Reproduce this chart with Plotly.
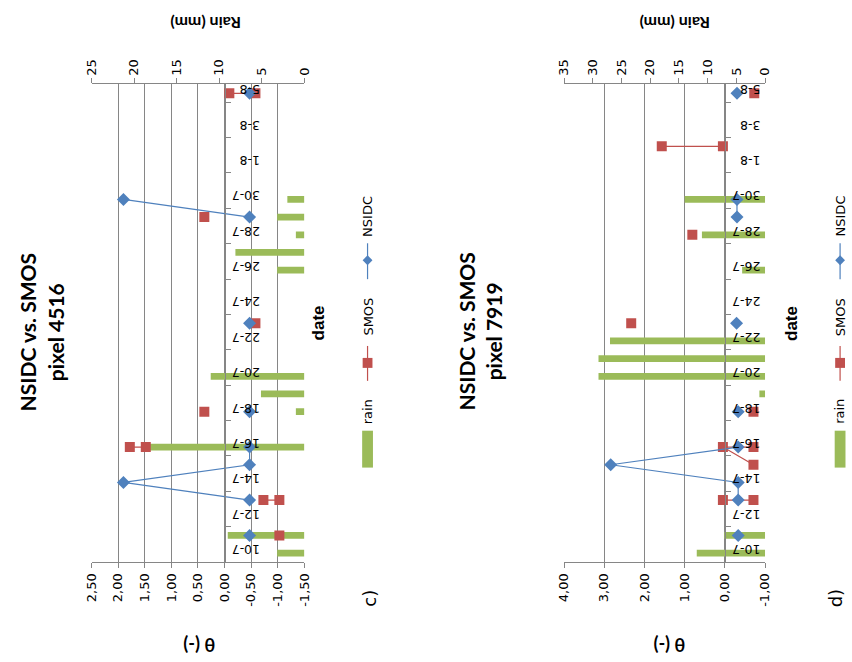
import plotly.graph_objects as go
from datetime import date

W, H = 852, 662

# ---------------- data ----------------
date_ticks = ["10-7", "12-7", "14-7", "16-7", "18-7", "20-7", "22-7", "24-7",
              "26-7", "28-7", "30-7", "1-8", "3-8", "5-8"]

# chart c) pixel 4516
rain_c_dates = ["10-7", "11-7", "16-7", "18-7", "19-7", "20-7", "26-7", "27-7", "28-7", "29-7", "30-7"]
rain_c = [3.2, 9.0, 19.0, 1.0, 5.1, 11.0, 3.2, 8.1, 1.0, 3.2, 2.0]
smos_c_dates = ["11-7", "13-7", "13-7", "16-7", "16-7", "18-7", "23-7", "29-7", "5-8", "5-8"]
smos_c = [-1.03, -0.73, -1.03, 1.78, 1.48, 0.38, -0.58, 0.38, -0.09, -0.58]
nsidc_c_dates = ["11-7", "13-7", "14-7", "15-7", "16-7", "18-7", "23-7", "29-7", "30-7", "5-8"]
nsidc_c = [-0.47, -0.47, 1.90, -0.47, -0.47, -0.47, -0.47, -0.47, 1.90, -0.47]

# chart d) pixel 7919
rain_d_dates = ["10-7", "11-7", "19-7", "20-7", "21-7", "22-7", "26-7", "28-7", "30-7"]
rain_d = [11.9, 7.1, 1.0, 29.0, 29.0, 27.0, 4.0, 11.0, 14.0]
smos_d_dates = ["13-7", "13-7", "15-7", "16-7", "16-7", "18-7", "23-7", "28-7", "2-8", "2-8", "5-8"]
smos_d = [0.05, -0.71, -0.71, 0.05, -0.71, -0.71, 2.33, 0.81, 1.57, 0.05, -0.73]
nsidc_d_dates = ["11-7", "13-7", "14-7", "15-7", "16-7", "18-7", "23-7", "29-7", "30-7", "5-8"]
nsidc_d = [-0.33, -0.33, -0.33, 2.84, -0.33, -0.33, -0.29, -0.30, -0.30, -0.30]

theta_c_ticks = [2.5, 2.0, 1.5, 1.0, 0.5, 0.0, -0.5, -1.0, -1.5]
theta_d_ticks = [4.0, 3.0, 2.0, 1.0, 0.0, -1.0]
rain_c_ticks = [0, 5, 10, 15, 20, 25]
rain_d_ticks = [0, 5, 10, 15, 20, 25, 30, 35]

# ---------------- helpers ----------------
START = date(2000, 7, 10)


def day(s):
    d, m = s.split("-")
    return (date(2000, int(m), int(d)) - START).days


def with_gaps(dates, vals):
    """Excel-like: consecutive rows are joined, a blank day breaks the line."""
    ys, xs, prev = [], [], None
    for d, v in zip(dates, vals):
        k = day(d)
        if prev is not None and k - prev > 1:
            ys.append(None)
            xs.append(None)
        ys.append(k)
        xs.append(v)
        prev = k
    return xs, ys


def fmt(v):
    return ("%.2f" % v).replace(".", ",")


GRID = "#868686"
BLUE = "#4F81BD"
RED = "#C0504D"
GREEN = "#9BBB59"
TICKFONT = dict(family="DejaVu Sans", size=13, color="#000000")
DATEFONT = dict(family="DejaVu Sans", size=12.5, color="#000000")

ytop_px, ybot_px = 82.7, 561.7
ydom = [1 - ybot_px / H, 1 - ytop_px / H]
day_max = day(date_ticks[-1])

fig = go.Figure()

panels = [
    dict(rx="x", tx="x2", ya="y", xdom=[85 / W, 301.7 / W], trange=[2.5, -1.5],
         rrange=[25, 0], tt=theta_c_ticks, rt=rain_c_ticks,
         rain=(rain_c_dates, rain_c), smos=(smos_c_dates, smos_c), nsidc=(nsidc_c_dates, nsidc_c)),
    dict(rx="x3", tx="x4", ya="y2", xdom=[566 / W, 770.7 / W], trange=[4, -1],
         rrange=[35, 0], tt=theta_d_ticks, rt=rain_d_ticks,
         rain=(rain_d_dates, rain_d), smos=(smos_d_dates, smos_d), nsidc=(nsidc_d_dates, nsidc_d)),
]

layout = dict(width=W, height=H, margin=dict(l=0, r=0, t=0, b=0),
              paper_bgcolor="white", plot_bgcolor="rgba(0,0,0,0)", showlegend=False)

for p in panels:
    rd, rv = p["rain"]
    fig.add_trace(go.Bar(x=rv, y=[day(d) for d in rd], orientation="h", width=0.38,
                         marker=dict(color=GREEN, line=dict(width=0)),
                         xaxis=p["rx"], yaxis=p["ya"]))
    sx, sy = with_gaps(*p["smos"])
    fig.add_trace(go.Scatter(x=sx, y=sy, mode="lines+markers", connectgaps=False,
                             line=dict(color=RED, width=1.2),
                             marker=dict(symbol="square", size=10, color=RED),
                             xaxis=p["tx"], yaxis=p["ya"]))
    nx, ny = with_gaps(*p["nsidc"])
    fig.add_trace(go.Scatter(x=nx, y=ny, mode="lines+markers", connectgaps=False,
                             line=dict(color=BLUE, width=1.2),
                             marker=dict(symbol="diamond", size=10, color=BLUE),
                             xaxis=p["tx"], yaxis=p["ya"]))

    rkey = "xaxis" + p["rx"][1:]
    tkey = "xaxis" + p["tx"][1:]
    ykey = "yaxis" + p["ya"][1:]
    lo, hi = p["trange"]
    pos = p["xdom"][0] + (p["xdom"][1] - p["xdom"][0]) * (lo - 0) / (lo - hi)

    layout[rkey] = dict(domain=p["xdom"], range=p["rrange"], side="top", anchor=p["ya"],
                        tickvals=p["rt"], ticktext=[str(v) for v in p["rt"]], tickangle=-90,
                        ticks="outside", ticklen=5, tickcolor=GRID, showline=True,
                        linecolor=GRID, linewidth=1, showgrid=False, zeroline=False,
                        tickfont=TICKFONT, fixedrange=True)
    layout[tkey] = dict(domain=p["xdom"], range=p["trange"], side="bottom", anchor=p["ya"],
                        overlaying=p["rx"], tickvals=p["tt"], ticktext=[fmt(v) for v in p["tt"]],
                        tickangle=-90, ticks="outside", ticklen=5, tickcolor=GRID,
                        showline=True, linecolor=GRID, linewidth=1, showgrid=True,
                        gridcolor=GRID, gridwidth=1, zeroline=False, tickfont=TICKFONT)
    layout[ykey] = dict(domain=ydom, range=[-0.5, day_max + 0.5], anchor="free", position=pos,
                        side="right", tickvals=[day(d) for d in date_ticks], ticktext=date_ticks,
                        tickangle=180, ticks="", showline=True, linecolor=GRID, linewidth=1,
                        showgrid=False, zeroline=False, tickfont=DATEFONT,
                        ticklabelstandoff=32,
                        minor=dict(ticks="outside", tickmode="array",
                                   tickvals=[day(d) - 0.5 for d in date_ticks[1:]],
                                   ticklen=5, tickcolor=GRID, showgrid=False))

fig.update_layout(**layout)

ann = []


def txt(x, y, text, size, angle, bold=False, family="Lato"):
    ann.append(dict(x=x / W, y=1 - y / H, xref="paper", yref="paper", showarrow=False,
                    text=("<b>%s</b>" % text) if bold else text, textangle=angle,
                    font=dict(family=family, size=size, color="#000000"),
                    xanchor="center", yanchor="middle"))


# titles
txt(34, 331, "NSIDC vs. SMOS<br>pixel 4516", 21, -90, True)
txt(480, 331, "NSIDC vs. SMOS<br>pixel 7919", 21, -90, True)
# axis titles
for off, cx in ((0, 195), (481, 673)):
    txt(cx + 6, 21, "Rain (mm)", 16, 180, True)
    txt(cx, 645, "θ (-)", 18, 180, True)
    txt(316 + off, 322, "date", 17, -90, True, "Liberation Sans")
txt(368, 598, "c)", 18, -90, False, "DejaVu Sans")
txt(842, 598, "d)", 18, -90, False, "DejaVu Sans")

shapes = []
for lx in (366, 847):
    # NSIDC
    txt(lx, 215, "NSIDC", 13, -90, False, "DejaVu Sans")
    shapes.append(dict(type="line", xref="paper", yref="paper", x0=lx / W, x1=lx / W,
                       y0=1 - 242 / H, y1=1 - 278 / H, line=dict(color=BLUE, width=1.2)))
    shapes.append(dict(type="path", xref="paper", yref="paper",
                       path="M %f %f L %f %f L %f %f L %f %f Z" % (
                           lx / W, 1 - 254 / H, (lx + 5) / W, 1 - 259 / H,
                           lx / W, 1 - 264 / H, (lx - 5) / W, 1 - 259 / H),
                       fillcolor=BLUE, line=dict(width=0)))
    # SMOS
    txt(lx, 316, "SMOS", 13, -90, False, "DejaVu Sans")
    shapes.append(dict(type="line", xref="paper", yref="paper", x0=lx / W, x1=lx / W,
                       y0=1 - 345 / H, y1=1 - 380 / H, line=dict(color=RED, width=1.2)))
    shapes.append(dict(type="rect", xref="paper", yref="paper", x0=(lx - 5) / W, x1=(lx + 5) / W,
                       y0=1 - 357 / H, y1=1 - 367 / H, fillcolor=RED, line=dict(width=0)))
    # rain
    txt(lx, 411, "rain", 13, -90, False, "DejaVu Sans")
    shapes.append(dict(type="rect", xref="paper", yref="paper", x0=(lx - 5.5) / W, x1=(lx + 5.5) / W,
                       y0=1 - 430 / H, y1=1 - 467 / H, fillcolor=GREEN, line=dict(width=0)))

fig.update_layout(annotations=ann, shapes=shapes)
fig.write_html("out.html")
